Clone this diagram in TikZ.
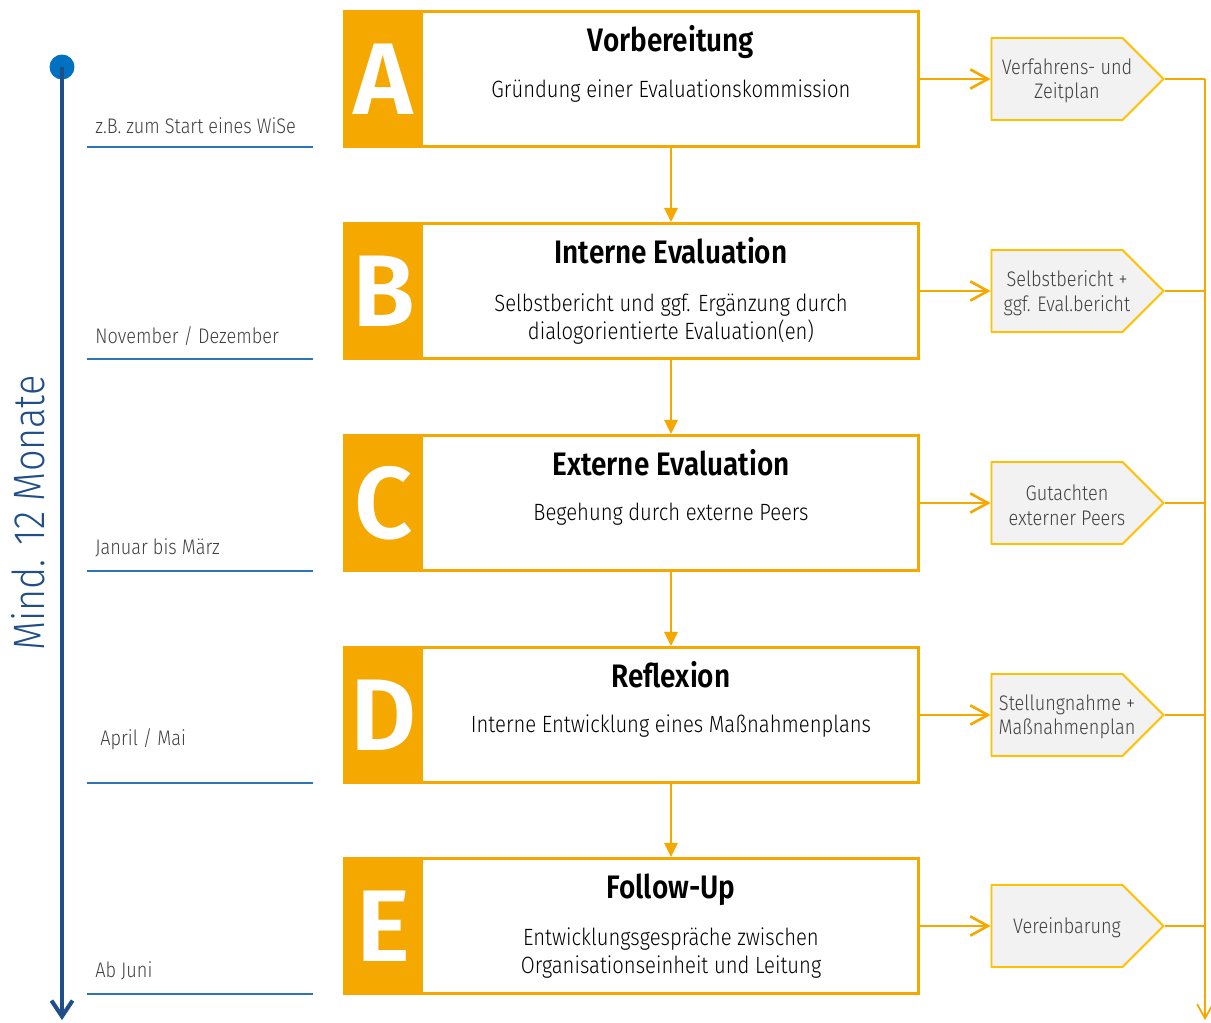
\documentclass[tikz,border=0pt]{standalone}
\usepackage{fontspec}
\setmainfont{Fira Sans}[FakeStretch=0.86]
\newfontfamily\lightfont{Fira Sans Light}[FakeStretch=0.86]
\newfontfamily\semifont{Fira Sans SemiBold}[FakeStretch=0.86]
\newfontfamily\letterfont{Fira Sans SemiBold}
\usetikzlibrary{arrows.meta,shapes.symbols}
\definecolor{evalorange}{HTML}{F5A800}
\definecolor{pentaline}{HTML}{FFC000}
\definecolor{pentafill}{HTML}{F2F2F2}
\definecolor{timeblue}{HTML}{1F4E89}
\definecolor{dotblue}{HTML}{0070C0}
\definecolor{lineblue}{HTML}{2E75B6}
\definecolor{textgray}{HTML}{404040}

\begin{document}
\begin{tikzpicture}[x=0.02cm,y=-0.02cm,
    stage/.style={draw=evalorange,line width=1.7pt,minimum width=11.48cm,minimum height=2.7cm,inner sep=0pt},
    letterbox/.style={fill=evalorange,text=white,minimum width=1.6cm,minimum height=2.76cm,inner sep=0pt,
        font=\fontsize{58}{58}\letterfont},
    stagetitle/.style={anchor=base,inner sep=0pt,font=\fontsize{18.5}{22}\semifont},
    stagebody/.style={align=center,inner sep=0pt,font=\fontsize{13.4}{16.4}\lightfont},
    result/.style={signal,signal to=east,signal pointer angle=90,draw=pentaline,fill=pentafill,line width=1.1pt,
        minimum width=3.44cm,minimum height=1.64cm,inner sep=0pt},
    resulttext/.style={align=center,inner sep=0pt,text=textgray,font=\fontsize{12}{14}\lightfont},
    month/.style={anchor=west,inner sep=0pt,text=textgray,font=\fontsize{12}{13}\lightfont},
    monthline/.style={lineblue,line width=1.1pt},
    flow/.style={evalorange,line width=1.4pt,-{Triangle[length=8pt,width=7.5pt]}},
    feed/.style={evalorange,line width=1.5pt,-{Straight Barb[length=10pt,width=11pt]}},
    collect/.style={evalorange,line width=1pt},
    timeline/.style={timeblue,line width=2.3pt,-{Straight Barb[length=9pt,width=12pt]}}
]
\useasboundingbox (0,0) rectangle (1211,1022);

% time axis on the left
\node[circle,fill=dotblue,minimum size=0.5cm,inner sep=0pt] (start) at (62,67) {};
\coordinate (timeend) at (62,1020);
\draw[timeline] (start.center) -- (timeend);
\node[rotate=90,text=timeblue,font=\fontsize{25}{25}\lightfont] (span) at (28,513) {Mind. 12 Monate};

% collecting line on the right
\coordinate (railtop) at (1205,79);
\coordinate (railend) at (1205,1020);
\draw[collect,-{Straight Barb[length=8pt,width=9pt]}] (railtop) -- (railend);

% the five stages
\foreach \n/\y/\ttl/\bdy/\by/\mon/\mx/\my/\res in {
    A/79/Vorbereitung/{Gründung einer Evaluationskommission}/12/{z.B. zum Start eines WiSe}/95/126/{Verfahrens- und\\Zeitplan},
    B/291/Interne Evaluation/{Selbstbericht und ggf. Ergänzung durch\\dialogorientierte Evaluation(en)}/28/{November / Dezember}/95/336/{Selbstbericht +\\ggf. Eval.bericht},
    C/503/Externe Evaluation/{Begehung durch externe Peers}/11/{Januar bis März}/95/548/{Gutachten\\externer Peers},
    D/715/Reflexion/{Interne Entwicklung eines Maßnahmenplans}/11/{April / Mai}/100/739/{Stellungnahme +\\Maßnahmenplan},
    E/926/Follow-Up/{Entwicklungsgespräche zwischen\\Organisationseinheit und Leitung}/27/{Ab Juni}/95/971/{Vereinbarung}}{
  \node[stage] (box\n) at (631.5,\y) {};
  \node[letterbox,anchor=west] (letter\n) at (343,\y) {\n};
  \node[stagetitle] (title\n) at (671,\y-28) {\ttl};
  \node[stagebody] (body\n) at (671,\y+\by) {\bdy};
  \node[result] (res\n) at (1057,\y) {};
  \node[resulttext] (restext\n) at (1067,\y+2) {\res};
  \draw[feed] (box\n) -- (res\n);
  \draw[collect] (res\n.east) -- (res\n.east -| railtop);
  \node[month] (mon\n) at (\mx,\my) {\mon};
  \draw[monthline] (87,\y+68) -- (313,\y+68);
}
\foreach \a/\b in {A/B,B/C,C/D,D/E}
  \draw[flow] (box\a.south -| title\a) -- (box\b.north -| title\b);
\end{tikzpicture}
\end{document}
